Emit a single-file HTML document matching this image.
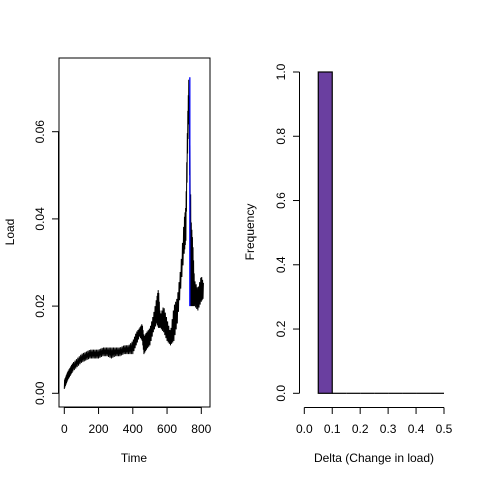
<!DOCTYPE html>
<html><head><meta charset="utf-8"><style>
body{margin:0;background:#fff}
svg text{font-family:"Liberation Sans",Arial,sans-serif;font-size:12px;fill:#000}
</style></head><body>
<svg width="480" height="480" viewBox="0 0 480 480">
<g id="left"></g>
<g id="right"></g>
</svg>
<script>
const times=[0,10,20,35,50,75,100,125,150,175,200,225,250,275,300,325,350,375,400,420,440,455,465,480,500,520,540,550,560,580,600,620,640,660,680,700,710,720,728,740,750,760,780,800,815];
const loadLo=[0.001,0.002,0.003,0.004,0.005,0.006,0.007,0.0075,0.008,0.008,0.008,0.0085,0.0085,0.008,0.0085,0.0085,0.009,0.009,0.009,0.011,0.013,0.012,0.009,0.010,0.011,0.014,0.016,0.015,0.015,0.014,0.012,0.011,0.012,0.016,0.024,0.032,0.035,0.055,0.065,0.020,0.020,0.020,0.019,0.021,0.022];
const loadHi=[0.003,0.004,0.005,0.006,0.007,0.008,0.009,0.0095,0.010,0.010,0.010,0.0105,0.0105,0.0105,0.0105,0.0105,0.011,0.011,0.012,0.014,0.015,0.016,0.013,0.014,0.015,0.018,0.022,0.024,0.018,0.020,0.017,0.014,0.020,0.022,0.029,0.040,0.043,0.063,0.0737,0.040,0.035,0.026,0.024,0.027,0.025];
const spikeT=[733], spikeLo=[0.020], spikeHi=[0.0725];
const xTicks=[0,200,400,600,800];
const yTicks=[0,0.02,0.04,0.06];
const yTickLabels=["0.00","0.02","0.04","0.06"];
const binEdges=[0.05,0.1,0.15,0.2,0.25,0.3,0.35,0.4,0.45,0.5];
const freq=[1,0,0,0,0,0,0,0,0];
const hxTicks=[0,0.1,0.2,0.3,0.4,0.5];
const hxLabels=["0.0","0.1","0.2","0.3","0.4","0.5"];
const hyTicks=[0,0.2,0.4,0.6,0.8,1.0];
const hyLabels=["0.0","0.2","0.4","0.6","0.8","1.0"];

const NS="http://www.w3.org/2000/svg";
function mk(p,t,a){const e=document.createElementNS(NS,t);for(const k in a)e.setAttribute(k,a[k]);p.appendChild(e);return e;}
const L=document.getElementById('left'), R=document.getElementById('right');
const xs=t=>64.3+t*(201.3-64.3)/800;
const ys=v=>393.3-v*(393.3-131.7)/0.06;
let b=mk(L,'rect',{x:59,y:58,width:151,height:349,fill:'none',stroke:'#000','stroke-width':1});


let pts=[];
for(let i=0;i<times.length-1;i++){
  const n=6;
  for(let j=0;j<n;j++){
    const f=j/n,t=times[i]+(times[i+1]-times[i])*f;
    const lo=loadLo[i]+(loadLo[i+1]-loadLo[i])*f, hi=loadHi[i]+(loadHi[i+1]-loadHi[i])*f;
    pts.push(xs(t).toFixed(2)+','+ys(j%2?hi:lo).toFixed(2));
  }
}
let ln=mk(L,'polyline',{points:pts.join(' '),fill:'none',stroke:'#000','stroke-width':1});


spikeT.forEach((t,i)=>{
  let s=mk(L,'line',{x1:xs(t),x2:xs(t),y1:ys(spikeLo[i]),y2:ys(spikeHi[i]),stroke:'#0000ff','stroke-width':1.3});
  
  
});
mk(L,'line',{x1:xs(0),x2:xs(800),y1:407.5,y2:407.5,stroke:'#000'});
xTicks.forEach(t=>{mk(L,'line',{x1:xs(t),x2:xs(t),y1:407.5,y2:414,stroke:'#000'});
  let tx=mk(L,'text',{x:xs(t),y:433,'text-anchor':'middle'});tx.textContent=t;
  
  });
mk(L,'line',{x1:58.5,x2:58.5,y1:ys(0),y2:ys(0.06),stroke:'#000'});
yTicks.forEach((v,i)=>{mk(L,'line',{x1:52,x2:58.5,y1:ys(v),y2:ys(v),stroke:'#000'});
  let tx=mk(L,'text',{x:44,y:ys(v),'text-anchor':'middle',transform:`rotate(-90 44 ${ys(v)})`});tx.textContent=yTickLabels[i];
  
  });
let xt=mk(L,'text',{x:134,y:462,'text-anchor':'middle'});xt.textContent='Time';


let yt=mk(L,'text',{x:14,y:232,'text-anchor':'middle',transform:'rotate(-90 14 232)'});yt.textContent='Load';



const hx=v=>304.3+v*(444-304.3)/0.5;
const hy=v=>393.3-v*(393.3-72)/1.0;
for(let i=0;i<freq.length;i++){
  const x0=hx(binEdges[i]), x1=hx(binEdges[i+1]);
  if(freq[i]>0){
    let r=mk(R,'rect',{x:x0,y:hy(freq[i]),width:x1-x0,height:hy(0)-hy(freq[i]),fill:'#6a3fa0',stroke:'#000','stroke-width':1.2});
    
    
  } else {
    let r=mk(R,'line',{x1:x0,x2:x1,y1:hy(0),y2:hy(0),stroke:'#000','stroke-width':1.2});
    
    
  }
}
mk(R,'line',{x1:hx(0),x2:hx(0.5),y1:407.5,y2:407.5,stroke:'#000'});
hxTicks.forEach((v,i)=>{mk(R,'line',{x1:hx(v),x2:hx(v),y1:407.5,y2:414,stroke:'#000'});
  let tx=mk(R,'text',{x:hx(v),y:433,'text-anchor':'middle'});tx.textContent=hxLabels[i];
  
  });
mk(R,'line',{x1:299.5,x2:299.5,y1:hy(0),y2:hy(1),stroke:'#000'});
hyTicks.forEach((v,i)=>{mk(R,'line',{x1:293,x2:299.5,y1:hy(v),y2:hy(v),stroke:'#000'});
  let tx=mk(R,'text',{x:285,y:hy(v),'text-anchor':'middle',transform:`rotate(-90 285 ${hy(v)})`});tx.textContent=hyLabels[i];
  
  });
let hxt=mk(R,'text',{x:374,y:462,'text-anchor':'middle'});hxt.textContent='Delta (Change in load)';


let hyt=mk(R,'text',{x:254,y:232,'text-anchor':'middle',transform:'rotate(-90 254 232)'});hyt.textContent='Frequency';


</script>
</body></html>
